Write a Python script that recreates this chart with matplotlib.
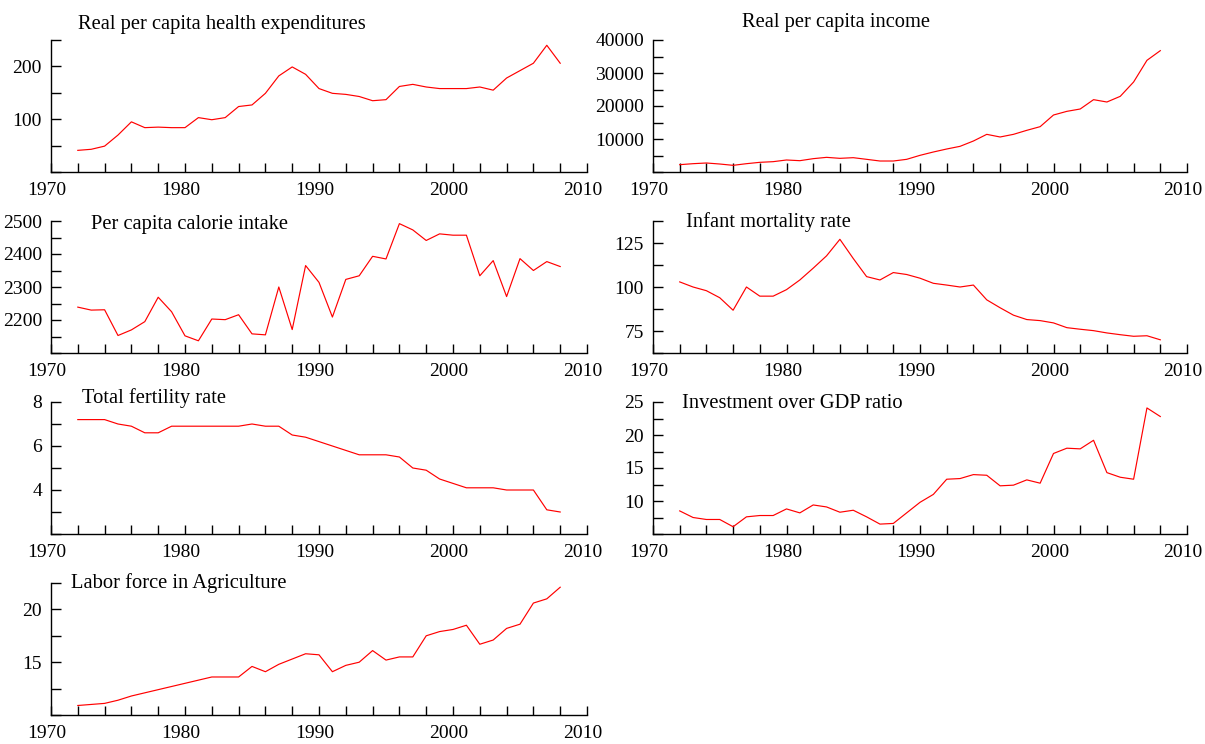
import matplotlib
matplotlib.use("Agg")
import matplotlib.pyplot as plt
from matplotlib.ticker import MultipleLocator
from matplotlib.transforms import ScaledTranslation

plt.rcParams['font.family'] = ['Liberation Serif', 'DejaVu Serif']

years = list(range(1972, 2009))

health = [41, 43, 49, 70, 95, 84, 85, 84, 84, 103, 99, 103, 124, 127, 149, 182, 199, 185,
          158, 149, 147, 143, 135, 137, 162, 166, 161, 158, 158, 158, 161, 155, 178, 192,
          206, 240, 206]
income = [2220, 2520, 2730, 2420, 2020, 2520, 2930, 3130, 3640, 3430, 4040, 4440, 4140,
          4340, 3840, 3330, 3330, 3840, 5050, 6060, 6970, 7780, 9390, 11410, 10610, 11410,
          12630, 13740, 17270, 18380, 19090, 21920, 21210, 22930, 27270, 33840, 36770]
calorie = [2239, 2230, 2231, 2153, 2170, 2195, 2269, 2225, 2152, 2137, 2203, 2201, 2216,
           2158, 2155, 2300, 2171, 2365, 2314, 2209, 2323, 2334, 2393, 2385, 2492, 2473,
           2441, 2461, 2457, 2457, 2334, 2380, 2271, 2386, 2350, 2377, 2362]
infant = [102.9, 100, 97.9, 93.9, 86.8, 100, 94.8, 94.8, 98.5, 104, 110.7, 117.7, 127.1,
          116.2, 105.9, 104, 108.2, 107.1, 105, 102.1, 101.1, 100, 101.1, 92.7, 88.2, 84,
          81.5, 80.9, 79.6, 76.9, 76, 75.2, 73.9, 72.9, 72, 72.3, 70]
fertility = [7.2, 7.2, 7.2, 7.0, 6.9, 6.6, 6.6, 6.9, 6.9, 6.9, 6.9, 6.9, 6.9, 7.0, 6.9, 6.9,
             6.5, 6.4, 6.2, 6.0, 5.8, 5.6, 5.6, 5.6, 5.5, 5.0, 4.9, 4.5, 4.3, 4.1, 4.1, 4.1,
             4.0, 4.0, 4.0, 3.1, 3.0]
investment = [8.5, 7.5, 7.2, 7.2, 6.1, 7.6, 7.8, 7.8, 8.8, 8.2, 9.4, 9.1, 8.3, 8.6, 7.6,
              6.5, 6.6, 8.2, 9.8, 11.0, 13.3, 13.4, 14.0, 13.9, 12.3, 12.4, 13.2, 12.7,
              17.2, 18.0, 17.9, 19.2, 14.3, 13.6, 13.3, 24.1, 22.8]
labor = [10.9, 11.0, 11.1, 11.4, 11.8, 12.1, 12.4, 12.7, 13.0, 13.3, 13.6, 13.6, 13.6, 14.6,
         14.1, 14.8, 15.3, 15.8, 15.7, 14.1, 14.7, 15.0, 16.1, 15.2, 15.5, 15.5, 17.5, 17.9,
         18.1, 18.5, 16.7, 17.1, 18.2, 18.6, 20.6, 21.0, 22.1]

titles = ["Real per capita health expenditures", "Real per capita income",
          "Per capita calorie intake", "Infant mortality rate",
          "Total fertility rate", "Investment over GDP ratio",
          "Labor force in Agriculture"]
series = [health, income, calorie, infant, fertility, investment, labor]
ylims = [(0, 250), (0, 40000), (2100, 2500), (62.5, 137.5), (2, 8), (5, 25), (10, 22.5)]
majors = [100, 10000, 100, 25, 2, 5, 5]
minors = [50, 5000, 50, 12.5, 1, 2.5, 2.5]
# title anchor in pixels (x, y-center)
title_px = [(78, 25), (742, 22), (91, 225), (686, 222), (82, 398), (682, 403), (71, 583)]

W, H = 1205, 744
fig = plt.figure(figsize=(W / 100, H / 100), dpi=100)

col_x = [(51, 587), (653, 1187)]
row_y = [(40, 172), (221, 353), (402, 534), (583, 715)]

for i, (vals, title) in enumerate(zip(series, titles)):
    r, c = divmod(i, 2)
    x0, x1 = col_x[c]
    y0, y1 = row_y[r]
    ax = fig.add_axes([x0 / W, 1 - y1 / H, (x1 - x0) / W, (y1 - y0) / H])
    ax.plot(years, vals, color='#ff0000', lw=0.85)
    ax.set_xlim(1970, 2010)
    ax.set_ylim(*ylims[i])
    ax.xaxis.set_major_locator(MultipleLocator(10))
    ax.xaxis.set_minor_locator(MultipleLocator(2))
    ax.yaxis.set_major_locator(MultipleLocator(majors[i]))
    ax.yaxis.set_minor_locator(MultipleLocator(minors[i]))
    for s in ['top', 'right']:
        ax.spines[s].set_visible(False)
    for s in ['left', 'bottom']:
        ax.spines[s].set_linewidth(1.0)
    ax.tick_params(axis='x', which='both', direction='in', length=6.5, width=1.0,
                   labelsize=14, pad=7.5)
    ax.tick_params(axis='y', which='both', direction='in', length=7.5, width=1.0,
                   labelsize=14, pad=6.5)
    ax.set_yticks([t for t in ax.get_yticks()
                   if ylims[i][0] < t <= ylims[i][1]])
    ax.patch.set_visible(False)
    shift = ScaledTranslation(-4 / 100, 0, fig.dpi_scale_trans)
    for lab in ax.get_xticklabels():
        lab.set_transform(lab.get_transform() + shift)
    tx, ty = title_px[i]
    fig.text(tx / W, 1 - ty / H, title, fontsize=14.8, ha='left', va='center')

fig.savefig("out.png", dpi=100)
